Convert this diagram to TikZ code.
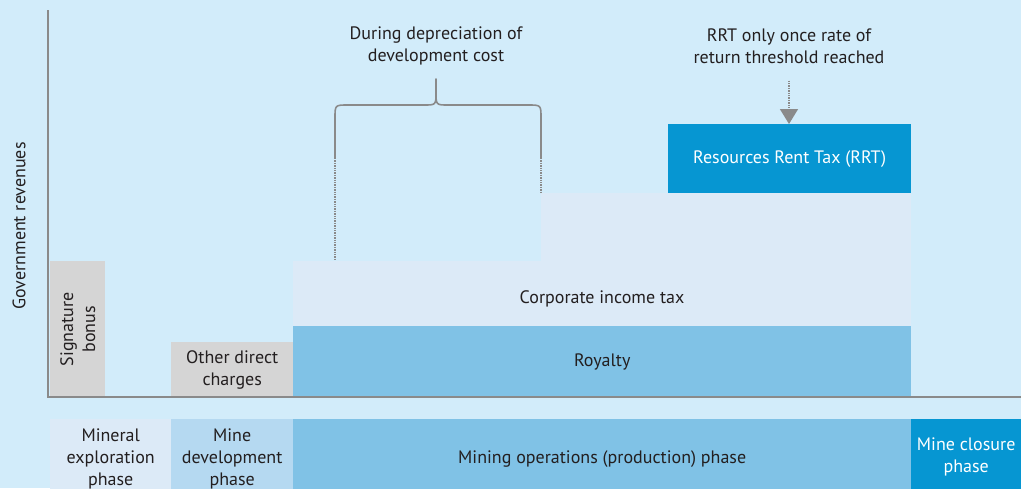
\documentclass[tikz,border=0pt]{standalone}
\usepackage{fontspec}
\setmainfont{PT Sans}
\usetikzlibrary{arrows.meta}

\definecolor{bgblue}{HTML}{D2ECFA}
\definecolor{paleblue}{HTML}{DCEAF7}
\definecolor{midblue}{HTML}{B5D9F1}
\definecolor{royblue}{HTML}{80C2E6}
\definecolor{deepblue}{HTML}{0696D2}
\definecolor{boxgray}{HTML}{D5D5D5}
\definecolor{linegray}{HTML}{8A8A8A}
\definecolor{ink}{HTML}{231F20}

\tikzstyle{bar} = [inner sep=0pt, anchor=north west, align=center, text=ink, font=\fontsize{18}{22}\selectfont]
\tikzstyle{note} = [inner sep=0pt, align=center, text=ink, font=\fontsize{18}{22}\selectfont]
\tikzstyle{guide} = [linegray, line width=1.6pt]

\begin{document}
\begin{tikzpicture}[x=1pt, y=-1pt]
      \fill[bgblue] (0,0) rectangle (1021,488);
      \useasboundingbox (0,0) rectangle (1021,488);

      % revenue bars
      \node[bar, fill=boxgray, minimum width=55, minimum height=136] (bonus) at (50,261) {};
      \node[note, rotate=90] (bonustxt) at (bonus.center) {Signature\\bonus};
      \node[bar, fill=boxgray, minimum width=122, minimum height=55] (other) at (171,342) {Other direct\\charges};
      \node[bar, fill=paleblue, minimum width=370, minimum height=68] (citstep) at (541,193) {};
      \node[bar, fill=paleblue, minimum width=618, minimum height=65] (cit) at (293,261) {};
      \node[note] (cittxt) at (602,299) {Corporate income tax};
      \node[bar, fill=royblue, minimum width=618, minimum height=71] (royalty) at (293,326) {Royalty};
      \node[bar, fill=deepblue, text=white, minimum width=243, minimum height=69] (rrt) at (668,124) {Resources Rent Tax (RRT)};

      % phases
      \node[bar, fill=paleblue, minimum width=121, minimum height=79] (explore) at (50,419) {Mineral\\exploration\\phase};
      \node[bar, fill=midblue, minimum width=122, minimum height=79] (develop) at (171,419) {Mine\\development\\phase};
      \node[bar, fill=royblue, minimum width=618, minimum height=79] (operate) at (293,419) {Mining operations (production) phase};
      \node[bar, fill=deepblue, text=white, minimum width=110, minimum height=76] (closure) at (911,419) {Mine closure\\phase};

      % axes
      \coordinate (top) at (48,10);
      \coordinate (origin) at (48,397);
      \coordinate (right) at (1021,397);
      \draw[guide] (top) -- (origin) -- (right);
      \node[note, rotate=90] (ylabel) at (19,226) {Government revenues};

      % notes
      \node[note] (deprec) at (436,46) {During depreciation of\\development cost};
      \node[note] (rrtnote) at (789,46) {RRT only once rate of\\return threshold reached};

      \coordinate (bl) at (335,158);
      \coordinate (br) at (541,158);
      \coordinate (blow) at (335,261);
      \coordinate (brlow) at (541,193);
      \draw[guide, line cap=round] (bl) -- (335,118) .. controls (335,105) .. (348,105) -- (424,105)
            .. controls (436,105) .. (436,92) -- (436,79);
      \draw[guide, line cap=round] (br) -- (541,118) .. controls (541,105) .. (528,105) -- (448,105)
            .. controls (436,105) .. (436,92);
      \draw[linegray, line width=1.4pt, densely dotted] (bl) -- (blow);
      \draw[linegray, line width=1.4pt, densely dotted] (br) -- (brlow);

      \draw[linegray, line width=1.4pt, densely dotted, -{Triangle[width=18pt, length=15pt]}, shorten <=17pt]
            (rrtnote.south) -- (rrt.north -| rrtnote.south);
    \end{tikzpicture}
\end{document}
